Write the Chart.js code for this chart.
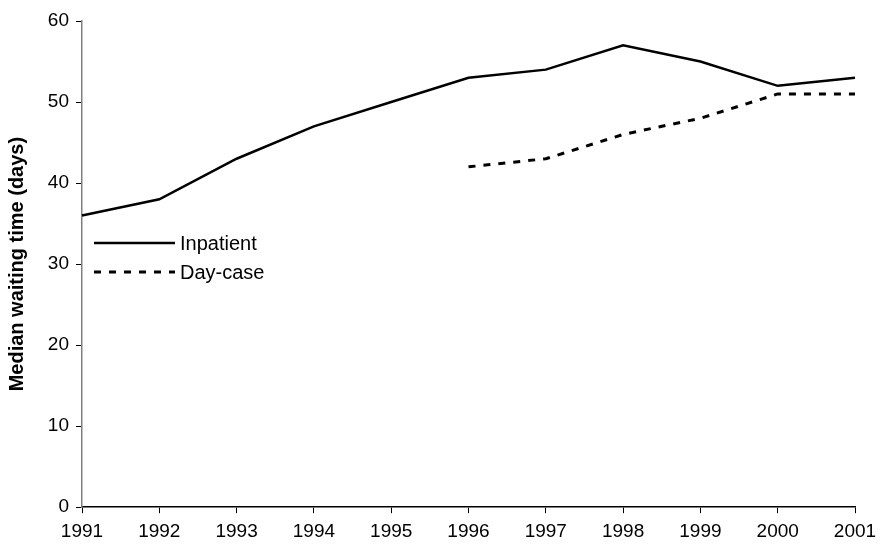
<!DOCTYPE html>
<html>
<head>
<meta charset="utf-8">
<script src="https://cdn.jsdelivr.net/npm/chart.js@4/dist/chart.umd.min.js"></script>
<style>
html,body{margin:0;padding:0;background:#fff;}
#wrap{width:880px;height:550px;position:relative;}
</style>
</head>
<body>
<div id="wrap"><canvas id="c" width="880" height="550"></canvas></div>
<script>
const years = ['1991','1992','1993','1994','1995','1996','1997','1998','1999','2000','2001'];
const inpatient = [36, 38, 43, 47, 50, 53, 54, 57, 55, 52, 53];
const dayCase = [null, null, null, null, null, 42, 43, 46, 48, 51, 51];
const yTitle = 'Median waiting time (days)';

const FONT = '"Liberation Sans", Arial, sans-serif';

const insideLegend = {
  id: 'insideLegend',
  afterDraw(chart) {
    const ctx = chart.ctx;
    const x0 = 94, x1 = 175, tx = 180;
    const rows = [243, 272];
    ctx.save();
    chart.data.datasets.forEach((ds, i) => {
      const y = rows[i];
      ctx.beginPath();
      ctx.strokeStyle = ds.borderColor;
      ctx.lineWidth = ds.borderWidth;
      ctx.setLineDash(ds.borderDash || []);
      ctx.moveTo(x0, y);
      ctx.lineTo(x1, y);
      ctx.stroke();
      ctx.setLineDash([]);
      ctx.fillStyle = '#000';
      ctx.font = '20px ' + FONT;
      ctx.textBaseline = 'middle';
      ctx.textAlign = 'left';
      ctx.fillText(ds.label, tx, y + 1);
    });
    ctx.restore();
  }
};

new Chart(document.getElementById('c'), {
  type: 'line',
  data: {
    labels: years,
    datasets: [
      {label: 'Inpatient', data: inpatient, borderColor: '#000', borderWidth: 2.5, pointRadius: 0, tension: 0, fill: false},
      {label: 'Day-case', data: dayCase, borderColor: '#000', borderWidth: 3, borderDash: [7, 8], pointRadius: 0, tension: 0, fill: false, spanGaps: false}
    ]
  },
  options: {
    responsive: false,
    animation: false,
    layout: {padding: {top: 21, right: 25, bottom: 0, left: 0}},
    plugins: {legend: {display: false}, tooltip: {enabled: false}},
    scales: {
      x: {
        offset: false,
        afterFit(scale) { scale.paddingRight = 0; scale.paddingLeft = 0; },
        grid: {display: true, drawOnChartArea: false, drawTicks: true, tickLength: 6, color: '#000', tickColor: '#000'},
        border: {display: true, color: '#000', width: 1.5},
        ticks: {color: '#000', font: {family: FONT, size: 19}, maxRotation: 0, autoSkip: false, padding: 7}
      },
      y: {
        min: 0, max: 60,
        afterFit(scale) { scale.width = 82; },
        grid: {display: true, drawOnChartArea: false, drawTicks: true, tickLength: 6, color: '#808080', tickColor: '#000'},
        border: {display: true, color: '#808080', width: 1.5},
        ticks: {stepSize: 10, color: '#000', font: {family: FONT, size: 19}, padding: 7},
        title: {display: true, text: yTitle, color: '#000', font: {family: FONT, size: 20, weight: 'bold'}, padding: {top: 5, bottom: 4}}
      }
    }
  },
  plugins: [insideLegend]
});
</script>
</body>
</html>
